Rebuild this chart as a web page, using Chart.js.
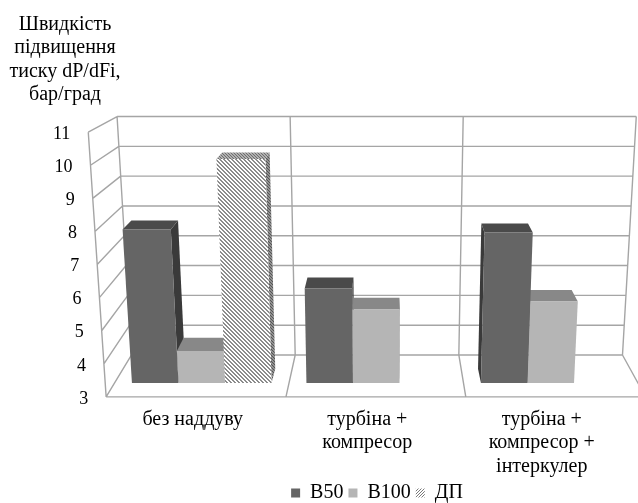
<!DOCTYPE html>
<html lang="uk">
<head>
<meta charset="utf-8">
<title>Швидкість підвищення тиску</title>
<script src="https://cdn.jsdelivr.net/npm/chart.js@4.4.1/dist/chart.umd.min.js"></script>
<style>
  html, body { margin: 0; padding: 0; background: #fff; }
  canvas { display: block; }
  .fontprobe { position: absolute; left: -9999px; font-family: 'Liberation Serif', 'Times New Roman', serif; }
</style>
</head>
<body>
<span class="fontprobe">Швидкість B50</span>
<canvas id="pressureChart" width="638" height="503"></canvas>
<script>
const categories = [
  'без наддуву',
  ['турбіна +', 'компресор'],
  ['турбіна +', 'компресор +', 'інтеркулер']
];
const b50Values = [7.8, 5.95, 7.7];
const b100Values = [4.0, 5.3, 5.55];
const dpValues = [10.0, null, null];
const yTicks = [3, 4, 5, 6, 7, 8, 9, 10, 11];
const axisTitle = ['Швидкість', 'підвищення', 'тиску dP/dFi,', 'бар/град'];

const FONT = "'Liberation Serif', 'Times New Roman', 'DejaVu Serif', serif";

// perspective of the 3-D box
const VP = { x: 388, y: -26 };    // depth lines run toward this point
const KEY = { x: 383, y: 4500 };  // verticals lean toward this point
const S_BACK = 0.9315;            // back wall
const S_FRONT = 1.034;            // front edge of the floor
const S_BAR = 0.965;              // rear face of the columns

const canvas = document.getElementById('pressureChart');
const ctx2d = canvas.getContext('2d');

function makePattern(size, paint) {
  const c = document.createElement('canvas');
  c.width = c.height = size;
  paint(c.getContext('2d'));
  return ctx2d.createPattern(c, 'repeat');
}

function pixels(g, size, bg, fg, test) {
  g.fillStyle = bg;
  g.fillRect(0, 0, size, size);
  g.fillStyle = fg;
  for (let x = 0; x < size; x++) {
    for (let y = 0; y < size; y++) {
      if (test(x, y)) g.fillRect(x, y, 1, 1);
    }
  }
}

const hatch = makePattern(4, g => pixels(g, 4, '#ffffff', '#8c8c8c', (x, y) => ((x - y) % 4 + 4) % 4 < 2));
const hatchLegend = makePattern(3, g => pixels(g, 3, '#ffffff', '#7a7a7a', (x, y) => (x + y) % 3 === 0));
const stipple = makePattern(3, g => pixels(g, 3, '#b0b0b0', '#6e6e6e', (x, y) => (x * 2 + y) % 3 === 0));
const stippleDark = makePattern(3, g => pixels(g, 3, '#909090', '#555555', (x, y) => (x * 2 + y) % 3 === 0));

// maps a point of the flat plot (bar front plane) back into the box
function projector(chart) {
  const base = chart.scales.y.getPixelForValue(yTicks[0]);
  return (u, v, s) => {
    const x1 = VP.x + (u - VP.x) * s;
    const y1 = VP.y + (v - VP.y) * s;
    return [KEY.x + (x1 - KEY.x) * (KEY.y - y1) / (KEY.y - base), y1];
  };
}

const box3d = {
  id: 'box3d',
  beforeDatasetsDraw(chart) {
    const { ctx, chartArea: area, scales: { y } } = chart;
    const P = projector(chart);
    const base = y.getPixelForValue(yTicks[0]);
    const top = y.getPixelForValue(yTicks[yTicks.length - 1]);
    const line = (a, b) => { ctx.moveTo(a[0], a[1]); ctx.lineTo(b[0], b[1]); };
    const poly = (pts, fill) => {
      ctx.beginPath();
      pts.forEach((p, i) => (i ? ctx.lineTo(p[0], p[1]) : ctx.moveTo(p[0], p[1])));
      ctx.closePath();
      ctx.fillStyle = fill;
      ctx.fill();
    };

    ctx.save();
    ctx.strokeStyle = '#a5a5a5';
    ctx.lineWidth = 1.4;
    ctx.beginPath();
    yTicks.forEach(t => {
      const v = y.getPixelForValue(t);
      line(P(area.left, v, S_BACK), P(area.right, v, S_BACK));
      line(P(area.left, v, S_BACK), P(area.left, v, S_FRONT));
    });
    const step = (area.right - area.left) / categories.length;
    for (let i = 0; i <= categories.length; i++) {
      const u = area.left + i * step;
      line(P(u, top, S_BACK), P(u, base, S_BACK));
      line(P(u, base, S_BACK), P(u, base, S_FRONT));
    }
    line(P(area.left, top, S_FRONT), P(area.left, base, S_FRONT));
    line(P(area.left, base, S_FRONT), P(area.right, base, S_FRONT));
    ctx.stroke();

    const bars = [];
    chart.data.datasets.forEach((ds, d) => {
      const meta = chart.getDatasetMeta(d);
      if (meta.hidden) return;
      meta.data.forEach((el, i) => {
        if (ds.data[i] == null) return;
        const p = el.getProps(['x', 'y', 'base', 'width'], true);
        bars.push({ ds, cx: p.x, u0: p.x - p.width / 2, u1: p.x + p.width / 2, vt: p.y, vb: p.base });
      });
    });

    // far columns first, so nearer faces cover them
    bars.sort((a, b) => Math.abs(b.cx - VP.x) - Math.abs(a.cx - VP.x));
    bars.forEach(b => {
      const ue = b.cx < VP.x ? b.u1 : b.u0;
      poly([P(ue, b.vt, 1), P(ue, b.vt, S_BAR), P(ue, b.vb, S_BAR), P(ue, b.vb, 1)], b.ds.sideColor);
      poly([P(b.u0, b.vt, 1), P(b.u1, b.vt, 1), P(b.u1, b.vt, S_BAR), P(b.u0, b.vt, S_BAR)], b.ds.topColor);
    });
    bars.forEach(b => {
      poly([P(b.u0, b.vt, 1), P(b.u1, b.vt, 1), P(b.u1, b.vb, 1), P(b.u0, b.vb, 1)], b.ds.backgroundColor);
    });
    ctx.restore();
    return false;
  },
  afterDraw(chart) {
    const { ctx, chartArea: area, scales: { y } } = chart;
    const P = projector(chart);
    ctx.save();
    ctx.fillStyle = '#000';
    ctx.font = `18px ${FONT}`;
    ctx.textAlign = 'right';
    ctx.textBaseline = 'middle';
    yTicks.forEach(t => {
      const [px, py] = P(area.left, y.getPixelForValue(t), S_FRONT);
      ctx.fillText(String(t), px - 18, py + 2);
    });
    ctx.font = `20px ${FONT}`;
    ctx.textAlign = 'center';
    ctx.textBaseline = 'alphabetic';
    axisTitle.forEach((s, i) => ctx.fillText(s, 65, 30 + i * 23.3));
    ctx.restore();
  }
};

function draw() {
  new Chart(canvas, {
    type: 'bar',
    data: {
      labels: categories,
      datasets: [
        { label: 'B50', data: b50Values, backgroundColor: '#656565', topColor: '#4a4a4a', sideColor: '#3a3a3a' },
        { label: 'B100', data: b100Values, backgroundColor: '#b5b5b5', topColor: '#888888', sideColor: '#8d8d8d' },
        { label: 'ДП', data: dpValues, backgroundColor: hatch, topColor: stipple, sideColor: stippleDark, legendFill: hatchLegend }
      ]
    },
    options: {
      responsive: false,
      animation: false,
      devicePixelRatio: 1,
      events: [],
      layout: { padding: { top: 127, left: 114.5, right: -1.5, bottom: -10 } },
      datasets: { bar: { categoryPercentage: 0.8, barPercentage: 1, base: yTicks[0] } },
      scales: {
        x: {
          grid: { display: false, drawTicks: false },
          border: { display: false },
          ticks: {
            font: { size: 20, family: FONT, lineHeight: 1.17 },
            color: '#000',
            padding: 25,
            labelOffset: -9,
            maxRotation: 0,
            autoSkip: false
          },
          afterFit(scale) { scale.height = 95; }
        },
        y: { display: false, min: yTicks[0], max: yTicks[yTicks.length - 1] }
      },
      plugins: {
        tooltip: { enabled: false },
        legend: {
          position: 'bottom',
          labels: {
            font: { size: 20, family: FONT },
            color: '#000',
            boxWidth: 9,
            boxHeight: 9,
            padding: 5,
            generateLabels(chart) {
              const items = Chart.defaults.plugins.legend.labels.generateLabels(chart);
              items.forEach(it => {
                const ds = chart.data.datasets[it.datasetIndex];
                if (ds.legendFill) it.fillStyle = ds.legendFill;
                it.lineWidth = 0;
              });
              return items;
            }
          }
        }
      }
    },
    plugins: [box3d]
  });
}

document.fonts.load("20px 'Liberation Serif'").then(draw, draw);
</script>
</body>
</html>
